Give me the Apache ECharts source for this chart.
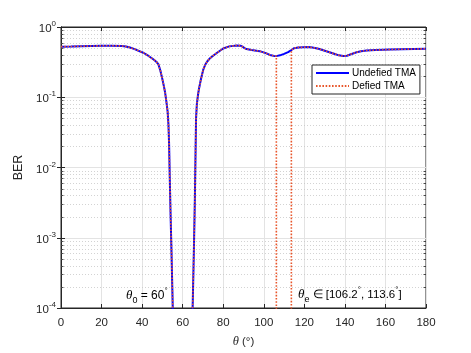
<!DOCTYPE html>
<html>
<head>
<meta charset="utf-8">
<script src="https://cdn.jsdelivr.net/npm/echarts@6/dist/echarts.min.js"></script>
<style>html,body{margin:0;padding:0;background:#fff;}#c{width:471px;height:353px;}</style>
</head>
<body>
<div id="c"></div>
<script>
// ---- data ----
const thetaUndefied = [0,5,10,15,20,25,30,32,34,36,38,40.6,43,45.5,47,48,49,49.6,50.5,51.3,52,52.6,53,53.3,53.6,54,54.5,55,55.5,57,60,63,64.5,65,65.5,66,66.6,67,67.5,68,69,70.2,71,72,73.5,75,77,80,83,86.6,88.5,89.5,90.5,91.5,94,98,101,103,105,106.2,108,110,112,113.6,115,117,119.5,122,124,127,129.3,132,135,137,139.2,141,143,145.8,148,150.7,155,162.2,168,174,180];
const berUndefied = [0.525,0.528,0.532,0.536,0.54,0.542,0.537,0.528,0.51,0.488,0.462,0.43,0.39,0.347,0.32,0.296,0.24,0.203,0.155,0.119,0.085,0.062,0.04,0.022,0.008,0.0024,0.0006,0.00014,0.00003,1e-6,1e-10,1e-6,3e-5,0.00013,0.0006,0.0033,0.05,0.08,0.105,0.13,0.18,0.25,0.285,0.32,0.36,0.39,0.43,0.495,0.53,0.545,0.542,0.525,0.5,0.485,0.47,0.453,0.425,0.4,0.388,0.385,0.395,0.415,0.44,0.47,0.5,0.512,0.515,0.518,0.51,0.49,0.467,0.44,0.412,0.395,0.386,0.39,0.41,0.438,0.452,0.463,0.47,0.478,0.482,0.486,0.49];

const thetaDefied = [0,5,10,15,20,25,30,32,34,36,38,40.6,43,45.5,47,48,49,49.6,50.5,51.3,52,52.6,53,53.3,53.6,54,54.5,55,55.5,57,60,63,64.5,65,65.5,66,66.6,67,67.5,68,69,70.2,71,72,73.5,75,77,80,83,86.6,88.5,89.5,90.5,91.5,94,98,101,103,105,106.2,106.2,113.6,113.6,115,117,119.5,122,124,127,129.3,132,135,137,139.2,141,143,145.8,148,150.7,155,162.2,168,174,180];
const berDefied = [0.525,0.528,0.532,0.536,0.54,0.542,0.537,0.528,0.51,0.488,0.462,0.43,0.39,0.347,0.32,0.296,0.24,0.203,0.155,0.119,0.085,0.062,0.04,0.022,0.008,0.0024,0.0006,0.00014,0.00003,1e-6,1e-10,1e-6,3e-5,0.00013,0.0006,0.0033,0.05,0.08,0.105,0.13,0.18,0.25,0.285,0.32,0.36,0.39,0.43,0.495,0.53,0.545,0.542,0.525,0.5,0.485,0.47,0.453,0.425,0.4,0.388,0.385,1e-10,1e-10,0.47,0.5,0.512,0.515,0.518,0.51,0.49,0.467,0.44,0.412,0.395,0.386,0.39,0.41,0.438,0.452,0.463,0.47,0.478,0.482,0.486,0.49];

const xTicks = [0,20,40,60,80,100,120,140,160,180];
const yDecades = [1e-4,1e-3,1e-2,1e-1,1];
const minorMultipliers = [2,3,4,5,6,7,8,9];
const seriesNames = ['Undefied TMA','Defied TMA'];

// minor log positions (axis structure)
const minorVals = [];
for (let d = 0; d < yDecades.length - 1; d++) {
  minorMultipliers.forEach(m => minorVals.push(m * yDecades[d]));
}

const AX = '#262626';
const FONT = 'Liberation Sans';
const chart = echarts.init(document.getElementById('c'));

const supRich = {
  b: {fontSize: 11.5, lineHeight: 14, padding: [4,0,0,0], color: AX, fontFamily: FONT},
  s: {fontSize: 8, lineHeight: 8, verticalAlign: 'top', color: AX, fontFamily: FONT}
};

chart.setOption({
  animation: false,
  backgroundColor: '#fff',
  grid: {left: 61, right: 45, top: 27, bottom: 39, show: true, borderColor: AX, borderWidth: 1, backgroundColor: '#fff'},
  legend: {
    data: seriesNames,
    orient: 'vertical',
    left: 312, top: 65,
    padding: [3, 4, 3, 3],
    itemGap: 3,
    itemWidth: 33, itemHeight: 8,
    backgroundColor: '#fff',
    borderColor: AX, borderWidth: 1,
    itemStyle: {opacity: 0},
    textStyle: {fontSize: 10, color: '#000', fontFamily: FONT, padding: [0,0,0,-2]}
  },
  xAxis: [{
    type: 'value', min: 0, max: 180, interval: 20,
    axisLine: {show: true, lineStyle: {color: AX, width: 1}},
    axisTick: {inside: true, length: 4, lineStyle: {color: AX}},
    axisLabel: {fontSize: 11.5, color: AX, fontFamily: FONT, margin: 9},
    splitLine: {show: true, lineStyle: {color: '#e3e3e3', width: 1}},
    name: '{i|θ}{n| (°)}',
    nameLocation: 'middle', nameGap: 27,
    nameTextStyle: {rich: {
      i: {fontSize: 12.5, fontStyle: 'italic', fontFamily: 'Liberation Serif', color: AX},
      n: {fontSize: 11.5, fontFamily: FONT, color: AX}
    }}
  }, {
    type: 'value', min: 0, max: 180, interval: 20, position: 'top',
    axisLine: {show: true, lineStyle: {color: AX}},
    axisTick: {inside: true, length: 4, lineStyle: {color: AX}},
    axisLabel: {show: false}, splitLine: {show: false}
  }],
  yAxis: [{
    type: 'log', logBase: 10, min: 1e-4, max: 1,
    axisLine: {show: true, lineStyle: {color: AX}},
    axisTick: {inside: true, length: 4, lineStyle: {color: AX}},
    axisLabel: {
      margin: 5, rich: supRich,
      formatter: v => '{b|10}{s|' + Math.round(Math.log10(v)) + '}'
    },
    splitLine: {show: true, lineStyle: {color: '#e3e3e3', width: 1}},
    name: 'BER', nameLocation: 'middle', nameGap: 27,
    nameTextStyle: {fontSize: 12.5, color: AX, fontFamily: FONT}
  }, {
    type: 'log', logBase: 10, min: 1e-4, max: 1, position: 'right',
    axisLine: {show: true, lineStyle: {color: AX}},
    axisTick: {inside: true, length: 4, lineStyle: {color: AX}},
    axisLabel: {show: false}, splitLine: {show: false}
  }],
  series: [
    {
      // minor grid + minor ticks
      type: 'custom', silent: true, z: 1,
      data: minorVals.map(v => [0, v]),
      renderItem: (params, api) => {
        const cs = params.coordSys;
        const p = api.coord([0, api.value(1)]);
        const y = Math.round(p[1]) + 0.5;
        return {type: 'group', children: [
          {type: 'line', shape: {x1: cs.x, y1: y, x2: cs.x + cs.width, y2: y},
           style: {stroke: '#c8c8c8', lineWidth: 0.8, lineDash: [1, 2]}},
          {type: 'line', shape: {x1: cs.x, y1: y, x2: cs.x + 2.5, y2: y}, style: {stroke: AX, lineWidth: 0.8}},
          {type: 'line', shape: {x1: cs.x + cs.width - 2.5, y1: y, x2: cs.x + cs.width, y2: y}, style: {stroke: AX, lineWidth: 0.8}}
        ]};
      }
    },
    {
      name: seriesNames[0], type: 'line', symbol: 'none', showSymbol: false, z: 3,
      data: thetaUndefied.map((t, i) => [t, berUndefied[i]]),
      lineStyle: {color: '#0000ff', width: 2},
      itemStyle: {color: '#0000ff'}
    },
    {
      name: seriesNames[1], type: 'line', symbol: 'none', showSymbol: false, z: 4,
      data: thetaDefied.map((t, i) => [t, berDefied[i]]),
      lineStyle: {color: '#e8552a', width: 1.6, type: [1.6, 1.6]},
      itemStyle: {color: '#e8552a'}
    }
  ],
  graphic: [
    {
      type: 'text', left: 126, top: 287, z: 10,
      style: {
        text: '{i|θ}{sub|0}{n| = 60}{sup|°}',
        rich: {
          i: {fontSize: 13, lineHeight: 18, fontStyle: 'italic', fontFamily: 'Liberation Serif', fill: '#000'},
          sub: {fontSize: 9, lineHeight: 8, verticalAlign: 'bottom', fontFamily: FONT, fill: '#000'},
          n: {fontSize: 12, lineHeight: 18, fontFamily: FONT, fill: '#000'},
          sup: {fontSize: 8, lineHeight: 10, verticalAlign: 'top', fontFamily: FONT, fill: '#000'}
        }
      }
    },
    {
      type: 'text', left: 298, top: 286, z: 10,
      style: {
        text: '{i|θ}{sub|e}{n| ∈ [106.2}{sup|°}{n|, 113.6}{sup|°}{n|]}',
        rich: {
          i: {fontSize: 13, lineHeight: 18, fontStyle: 'italic', fontFamily: 'Liberation Serif', fill: '#000'},
          sub: {fontSize: 9, lineHeight: 8, verticalAlign: 'bottom', fontFamily: FONT, fill: '#000'},
          n: {fontSize: 11.5, lineHeight: 18, fontFamily: FONT, fill: '#000'},
          sup: {fontSize: 8, lineHeight: 10, verticalAlign: 'top', fontFamily: FONT, fill: '#000'}
        }
      }
    }
  ]
});
</script>
</body>
</html>
